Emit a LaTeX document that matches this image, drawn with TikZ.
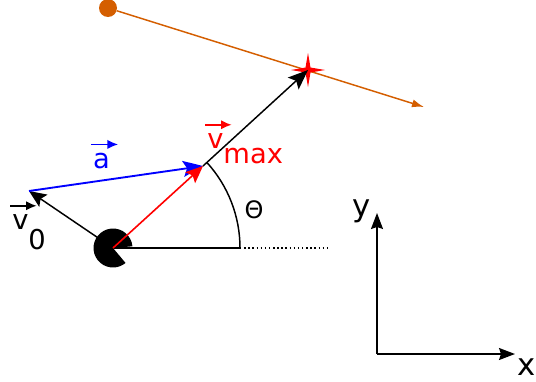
\documentclass[tikz,border=0pt]{standalone}
\usepackage{fontspec}
\setmainfont{DejaVu Sans}
\usetikzlibrary{arrows.meta}

\definecolor{pathorange}{RGB}{212,94,0}
\newcommand{\vecl}[1]{\tikz[baseline=(vl.base)]{\node[inner sep=0pt] (vl) {#1};
  \draw[overlay, -{Latex[length=8pt,width=7pt]}, line width=1.3pt]
    ([xshift=-1.5pt,yshift=6pt]vl.north west) -- ([xshift=6pt,yshift=6pt]vl.north east);}}

\begin{document}
\begin{tikzpicture}[
  x=0.75pt, y=-0.75pt,
  >=Stealth,
  vec/.style={line width=1.1pt, -{Stealth[length=13pt,width=11pt,inset=2.5pt]}},
  bigvec/.style={vec, -{Stealth[length=15pt,width=12pt,inset=3pt]}},
  axis/.style={line width=1.1pt, -{Stealth[length=12pt,width=9pt,inset=1.5pt]}},
  lbl/.style={font=\fontsize{20.5}{24}\selectfont, inner sep=0pt, anchor=base},
  axlbl/.style={lbl, font=\fontsize{23}{26}\selectfont},
  dot/.style={circle, fill=pathorange, inner sep=0pt, minimum size=13.5pt},
]
  \useasboundingbox (0,0) rectangle (536,382);

  % named points
  \coordinate (ball) at (113,248);
  \coordinate (vzero) at (29,191);
  \coordinate (vtip) at (203,166);
  \coordinate (base) at (240,248);
  \coordinate (baseend) at (328,248);
  \coordinate (dir) at (424,107);
  \coordinate (hit) at (308,70);
  \node[dot] (src) at (108,8) {};

  % trajectory of the target
  \draw[pathorange, line width=1.1pt, -{Latex[length=9pt,width=6pt]}] (src) -- (dir);
  \fill[red] (hit) +(0,-17) -- +(2.5,-2.5) -- +(17,0) -- +(2.5,2.5) -- +(0,17)
    -- +(-2.5,2.5) -- +(-17,0) -- +(-2.5,-2.5) -- cycle;

  % angle
  \draw[line width=1.1pt] (ball) -- (base);
  \draw[line width=1.1pt, dotted] (base) -- (baseend);
  \draw[line width=1.1pt] (base) arc[start angle=0, end angle=-42.3, radius=127];

  % velocities
  \draw[vec] (ball) -- (vzero);
  \draw[bigvec, blue, line width=1.4pt] (vzero) -- (vtip);
  \draw[bigvec] (vtip) -- (hit);
  \fill (ball) -- +(-5:19.5) arc[start angle=-5, end angle=-310, radius=19.5] -- cycle;
  \draw[vec, red, line width=1.2pt] (ball) -- (vtip);

  % labels
  \node[lbl, blue] (alabel) at (101.5,168) {\vecl{a}};
  \node[lbl, red, anchor=base west] (vmaxlabel) at (207,148) {\vecl{v}\raisebox{-11.25pt}{max}};
  \node[lbl, anchor=base west] (vzerolabel) at (12,229) {\vecl{v}\raisebox{-15pt}{0}};
  \node[lbl, font=\fontsize{18}{20}\selectfont] (thetalabel) at (254,218) {Θ};

  % axes
  \coordinate (origin) at (377,354);
  \coordinate (xend) at (515,354);
  \coordinate (yend) at (377,213);
  \draw[axis] (origin) -- (xend);
  \draw[axis] (origin) -- (yend);
  \node[axlbl] (xlabel) at (527,375) {x};
  \node[axlbl] (ylabel) at (362,216) {y};
\end{tikzpicture}
\end{document}
